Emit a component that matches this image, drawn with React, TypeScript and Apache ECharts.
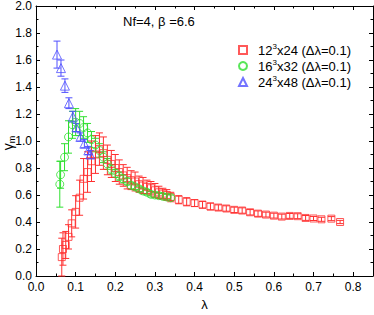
import React, { useEffect, useRef } from 'react';
import * as echarts from 'echarts';

// ---- data ----
const seriesNames = ['12^3x24 (Δλ=0.1)', '16^3x32 (Δλ=0.1)', '24^3x48 (Δλ=0.1)'];

const redLambda = [0.065, 0.068, 0.075, 0.082, 0.09, 0.10, 0.11, 0.12, 0.13, 0.14, 0.15, 0.16, 0.17, 0.18, 0.19, 0.20, 0.21, 0.22, 0.23, 0.24, 0.25, 0.26, 0.27, 0.28, 0.29, 0.30, 0.31, 0.32, 0.33, 0.34, 0.36, 0.38, 0.40, 0.42, 0.44, 0.46, 0.48, 0.50, 0.52, 0.54, 0.56, 0.58, 0.60, 0.62, 0.64, 0.66, 0.68, 0.70, 0.72, 0.745, 0.767];
const redGamma = [0.14, 0.20, 0.23, 0.29, 0.39, 0.475, 0.58, 0.72, 0.77, 0.85, 0.90, 0.94, 0.91, 0.86, 0.83, 0.80, 0.77, 0.745, 0.725, 0.71, 0.70, 0.68, 0.67, 0.66, 0.65, 0.635, 0.62, 0.61, 0.60, 0.585, 0.565, 0.55, 0.54, 0.528, 0.515, 0.507, 0.50, 0.49, 0.485, 0.472, 0.462, 0.455, 0.447, 0.44, 0.445, 0.443, 0.43, 0.426, 0.42, 0.425, 0.40];
const redErr = [0.14, 0.12, 0.1, 0.09, 0.1, 0.12, 0.13, 0.15, 0.15, 0.15, 0.14, 0.12, 0.12, 0.11, 0.1, 0.1, 0.09, 0.08, 0.08, 0.07, 0.07, 0.06, 0.06, 0.05, 0.05, 0.05, 0.045, 0.04, 0.04, 0.035, 0.03, 0.03, 0.025, 0.025, 0.025, 0.02, 0.02, 0.02, 0.02, 0.02, 0.02, 0.018, 0.018, 0.018, 0.018, 0.018, 0.018, 0.015, 0.015, 0.015, 0.012];

const greenLambda = [0.060, 0.062, 0.072, 0.082, 0.092, 0.100, 0.110, 0.120, 0.130, 0.140, 0.150, 0.160, 0.170, 0.180, 0.190, 0.200, 0.210, 0.220, 0.230, 0.240, 0.250, 0.260, 0.270, 0.280, 0.290, 0.300, 0.310, 0.320, 0.330, 0.340];
const greenGamma = [0.68, 0.75, 0.88, 1.03, 1.12, 1.14, 1.13, 1.10, 1.06, 1.01, 0.97, 0.93, 0.88, 0.83, 0.79, 0.76, 0.74, 0.72, 0.70, 0.67, 0.66, 0.645, 0.63, 0.62, 0.605, 0.60, 0.595, 0.59, 0.585, 0.58];
const greenErr = [0.17, 0.1, 0.1, 0.12, 0.1, 0.1, 0.09, 0.08, 0.07, 0.06, 0.05, 0.05, 0.04, 0.04, 0.035, 0.03, 0.03, 0.03, 0.025, 0.025, 0.02, 0.02, 0.02, 0.02, 0.02, 0.02, 0.02, 0.02, 0.02, 0.02];

const blueLambda = [0.053, 0.063, 0.073, 0.083, 0.093, 0.102, 0.112, 0.122, 0.132, 0.137];
const blueGamma = [1.64, 1.54, 1.41, 1.28, 1.18, 1.10, 1.03, 0.98, 0.93, 0.90];
const blueErr = [0.10, 0.06, 0.05, 0.04, 0.04, 0.03, 0.03, 0.03, 0.03, 0.03];

const xTickValues = [0.0, 0.1, 0.2, 0.3, 0.4, 0.5, 0.6, 0.7, 0.8];
const yTickValues = [0.0, 0.2, 0.4, 0.6, 0.8, 1.0, 1.2, 1.4, 1.6, 1.8, 2.0];

const titleText = 'Nf=4, β =6.6';

const RED = '#ff3030';
const GREEN = '#30e030';
const BLUE = '#5050ff';
const FONT = 'Liberation Sans, Arial, sans-serif';

function zip(l: number[], g: number[], e: number[]) {
  return l.map((v, i) => [v, g[i], e[i]]);
}

function errRender(color: string) {
  return (params: any, api: any) => {
    const x = api.value(0);
    const y = api.value(1);
    const e = api.value(2);
    const clamped = y - e < 0;
    const lo = Math.max(0, y - e);
    const p1 = api.coord([x, y + e]);
    const p0 = api.coord([x, lo]);
    const hw = 3.5;
    const style = { stroke: color, lineWidth: 1 };
    const children: any[] = [
      { type: 'line', shape: { x1: p1[0], y1: p1[1], x2: p0[0], y2: p0[1] }, style },
      { type: 'line', shape: { x1: p1[0] - hw, y1: p1[1], x2: p1[0] + hw, y2: p1[1] }, style },
    ];
    if (!clamped) {
      children.push({ type: 'line', shape: { x1: p0[0] - hw, y1: p0[1], x2: p0[0] + hw, y2: p0[1] }, style });
    }
    return { type: 'group', children };
  };
}

function legendFmt(name: string) {
  const m = name.match(/^(\d+)\^(\d)(.*)$/);
  if (!m) return name;
  return `{sp|}{n|${m[1]}}{sup|${m[2]}}{n|${m[3]}}`;
}

export default function App() {
  const ref = useRef<HTMLDivElement>(null);
  useEffect(() => {
    const chart = echarts.init(ref.current!, null, { renderer: 'svg' });
    const axisCommon = {
      type: 'value' as const,
      axisLine: { show: true, onZero: false, lineStyle: { color: '#000', width: 1 } },
      axisTick: { show: true, inside: true, length: 4, lineStyle: { color: '#000' } },
      minorTick: { show: true, splitNumber: 2, length: 2.5, lineStyle: { color: '#000' } },
      splitLine: { show: false },
    };
    const scatterCommon = (color: string) => ({
      type: 'scatter' as const,
      itemStyle: { color: 'rgba(255,255,255,0)', borderColor: color, borderWidth: 1 },
      z: 3,
    });
    const option: any = {
      animation: false,
      backgroundColor: '#fff',
      textStyle: { fontFamily: FONT },
      title: {
        text: titleText,
        left: 118,
        top: 10,
        textStyle: { fontSize: 13, fontWeight: 'normal', color: '#000', fontFamily: FONT },
      },
      grid: { left: 36, right: 1, top: 6, bottom: 39, outerBoundsMode: 'none' },
      legend: {
        orient: 'vertical',
        left: 233,
        top: 37,
        itemWidth: 8,
        itemHeight: 8,
        itemGap: 1.5,
        data: seriesNames,
        formatter: legendFmt,
        textStyle: {
          fontFamily: FONT,
          color: '#000',
          rich: {
            sp: { width: 6, fontSize: 13, lineHeight: 16 },
            n: { fontSize: 13, lineHeight: 16, verticalAlign: 'middle', fontFamily: FONT, color: '#000' },
            sup: { fontSize: 8, lineHeight: 8, verticalAlign: 'top', fontFamily: FONT, color: '#000' },
          },
        },
      },
      xAxis: [
        {
          ...axisCommon,
          position: 'bottom',
          min: 0,
          max: 0.85,
          interval: 0.1,
          name: 'λ',
          nameLocation: 'middle',
          nameGap: 21,
          nameTextStyle: { fontSize: 13, color: '#000', fontFamily: FONT },
          axisLabel: {
            showMaxLabel: false,
            fontSize: 12,
            color: '#000',
            margin: 5,
            fontFamily: FONT,
            formatter: (v: number) => (xTickValues.some((t) => Math.abs(t - v) < 1e-9) ? v.toFixed(1) : ''),
          },
        },
        {
          ...axisCommon,
          position: 'top',
          min: 0,
          max: 0.85,
          interval: 0.1,
          axisLabel: { show: false },
        },
      ],
      yAxis: [
        {
          ...axisCommon,
          position: 'left',
          min: 0,
          max: 2,
          interval: 0.2,
          axisLabel: {
            fontSize: 12,
            lineHeight: 10,
            color: '#000',
            margin: 4,
            fontFamily: FONT,
            formatter: (v: number) => (yTickValues.some((t) => Math.abs(t - v) < 1e-9) ? v.toFixed(1) : ''),
          },
        },
        {
          ...axisCommon,
          position: 'right',
          min: 0,
          max: 2,
          interval: 0.2,
          axisLabel: { show: false },
        },
      ],
      graphic: [
        {
          type: 'text',
          x: 8,
          y: 143,
          rotation: Math.PI / 2,
          style: {
            text: '{g|γ}{s|m}',
            align: 'center',
            verticalAlign: 'middle',
            rich: {
              g: { fontSize: 14, lineHeight: 16, verticalAlign: 'middle', fontFamily: FONT, fill: '#000' },
              s: { fontSize: 9, lineHeight: 6, verticalAlign: 'bottom', fontFamily: FONT, fill: '#000' },
            },
          },
        },
      ],
      series: [
        {
          type: 'custom',
          renderItem: errRender(GREEN),
          data: zip(greenLambda, greenGamma, greenErr),
          encode: { x: 0, y: 1 },
          z: 2,
          silent: true,
        },
        {
          type: 'custom',
          renderItem: errRender(RED),
          data: zip(redLambda, redGamma, redErr),
          encode: { x: 0, y: 1 },
          z: 2,
          silent: true,
        },
        {
          type: 'custom',
          renderItem: errRender(BLUE),
          data: zip(blueLambda, blueGamma, blueErr),
          encode: { x: 0, y: 1 },
          z: 2,
          silent: true,
        },
        {
          ...scatterCommon(RED),
          name: seriesNames[0],
          symbol: 'rect',
          symbolSize: 7,
          data: redLambda.map((v, i) => [v, redGamma[i]]),
        },
        {
          ...scatterCommon(GREEN),
          name: seriesNames[1],
          symbol: 'circle',
          symbolSize: 8,
          data: greenLambda.map((v, i) => [v, greenGamma[i]]),
        },
        {
          ...scatterCommon(BLUE),
          name: seriesNames[2],
          symbol: 'triangle',
          symbolSize: 9,
          data: blueLambda.map((v, i) => [v, blueGamma[i]]),
        },
      ],
    };
    chart.setOption(option);
    return () => chart.dispose();
  }, []);
  return (
    <div
      ref={ref}
      style={{ position: 'fixed', left: 0, top: 0, width: 374, height: 315, background: '#fff' }}
    />
  );
}
